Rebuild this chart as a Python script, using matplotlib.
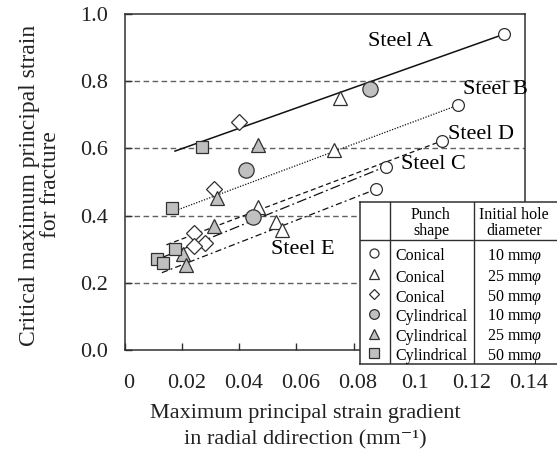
import matplotlib
matplotlib.use("Agg")
import matplotlib.pyplot as plt
import matplotlib.transforms as mtransforms

plt.rcParams['font.family'] = ['Liberation Serif', 'DejaVu Serif']
plt.rcParams['mathtext.fontset'] = 'custom'
plt.rcParams['mathtext.rm'] = 'Liberation Serif'
plt.rcParams['mathtext.it'] = 'Liberation Serif:italic'

# ---- data (strain gradient x, critical strain y) ----
conical10_x = [0.1327, 0.1166, 0.1108, 0.0912, 0.0877]
conical10_y = [0.940, 0.729, 0.622, 0.546, 0.478]
conical25_x = [0.0752, 0.0731, 0.0464, 0.0530, 0.0550]
conical25_y = [0.749, 0.595, 0.427, 0.382, 0.357]
conical50_x = [0.0398, 0.0312, 0.0240, 0.0281, 0.0243]
conical50_y = [0.679, 0.478, 0.347, 0.317, 0.310]
cyl10_x = [0.0857, 0.0423, 0.0448]
cyl10_y = [0.776, 0.536, 0.397]
cyl25_x = [0.0464, 0.0322, 0.0311, 0.0202, 0.0214]
cyl25_y = [0.610, 0.451, 0.370, 0.285, 0.253]
cyl50_x = [0.0269, 0.0164, 0.0175, 0.0113, 0.0134]
cyl50_y = [0.603, 0.422, 0.300, 0.270, 0.260]

# fitted lines per steel: (x0, x1), (y0, y1)
steel_names = ['Steel A', 'Steel B', 'Steel D', 'Steel C', 'Steel E']
line_x = [(0.0175, 0.1327), (0.0168, 0.1160), (0.0145, 0.1108), (0.0132, 0.0912), (0.0129, 0.0877)]
line_y = [(0.592, 0.940), (0.412, 0.727), (0.313, 0.622), (0.276, 0.546), (0.230, 0.478)]
line_styles = ['-', (0, (1, 1.2)), (0, (4, 2.5)), (0, (8, 2.5, 1.5, 2.5)), (0, (5, 2.5, 1.5, 2.5))]
line_widths = [1.1, 0.9, 0.9, 0.9, 0.9]
label_x = [0.0965, 0.1295, 0.1245, 0.1080, 0.0621]
label_y = [0.917, 0.774, 0.640, 0.551, 0.298]

x_ticks = [0, 0.02, 0.04, 0.06, 0.08, 0.10, 0.12, 0.14]
x_ticklabels = ['0', '0.02', '0.04', '0.06', '0.08', '0.1', '0.12', '0.14']
y_ticks = [0.0, 0.2, 0.4, 0.6, 0.8, 1.0]
y_ticklabels = ['0.0', '0.2', '0.4', '0.6', '0.8', '1.0']
grid_y = [0.2, 0.4, 0.6, 0.8]

legend_shapes = ['Conical', 'Conical', 'Conical', 'Cylindrical', 'Cylindrical', 'Cylindrical']
legend_diams = ['10 mm$\\varphi$', '25 mm$\\varphi$', '50 mm$\\varphi$',
                '10 mm$\\varphi$', '25 mm$\\varphi$', '50 mm$\\varphi$']

GRAY = '#c0c0c0'
EDGE = '#303030'
W, H = 557, 461

fig = plt.figure(figsize=(W / 100, H / 100), dpi=100)
ax = fig.add_axes([125 / W, 1 - 350 / H, 400 / W, 336 / H])
ax.set_xlim(0, 0.14)
ax.set_ylim(0, 1.0)

for gy in grid_y:
    ax.axhline(gy, color='#606060', lw=1.0, ls=(0, (4, 2.5)), zorder=1)

for xs, ys, ls, lw in zip(line_x, line_y, line_styles, line_widths):
    ax.plot(xs, ys, color='#111111', ls=ls, lw=lw, zorder=2)

mk = dict(linestyle='none', markeredgecolor=EDGE, markeredgewidth=0.9, zorder=3)
ax.plot(conical10_x, conical10_y, marker='o', ms=8.5, markerfacecolor='white', **mk)
ax.plot(conical25_x, conical25_y, marker='^', ms=9.5, markerfacecolor='white', **mk)
ax.plot(conical50_x, conical50_y, marker='D', ms=8, markerfacecolor='white', **mk)
ax.plot(cyl10_x, cyl10_y, marker='o', ms=11, markerfacecolor=GRAY, **mk)
ax.plot(cyl25_x, cyl25_y, marker='^', ms=9.5, markerfacecolor=GRAY, **mk)
ax.plot(cyl50_x, cyl50_y, marker='s', ms=9, markerfacecolor=GRAY, **mk)

for name, lx, ly in zip(steel_names, label_x, label_y):
    ax.text(lx, ly, name, fontsize=16, ha='center', va='center', zorder=4)

ax.set_xticks(x_ticks)
ax.set_xticklabels(x_ticklabels)
ax.set_yticks(y_ticks)
ax.set_yticklabels(y_ticklabels)
ax.tick_params(axis='both', direction='in', length=5, width=1.0, color='#303030',
               labelsize=16, colors='#222222')
ax.tick_params(axis='y', pad=12)
ax.tick_params(axis='x', pad=17)
offset = mtransforms.ScaledTranslation(4 / 100, 0, fig.dpi_scale_trans)
for lab in ax.get_xticklabels():
    lab.set_transform(lab.get_transform() + offset)
for sp in ax.spines.values():
    sp.set_color('#303030')
    sp.set_linewidth(1.1)

# axis titles
fig.text(305 / W, 1 - 413 / H, 'Maximum principal strain gradient', fontsize=16,
         ha='center', va='center', color='#222222')
fig.text(305 / W, 1 - 440 / H, 'in radial ddirection (mm\u207b\u00b9)', fontsize=16,
         ha='center', va='center', color='#222222')
fig.text(30 / W, 1 - 185 / H, 'Critical maximum principal strain', fontsize=17,
         rotation=90, ha='center', va='center', color='#222222')
fig.text(50 / W, 1 - 185 / H, 'for fracture', fontsize=17,
         rotation=90, ha='center', va='center', color='#222222')

# legend table (pixel coordinates of the table region)
tl, tr, tt, tb = 360, 557, 202.5, 364
lax = fig.add_axes([tl / W, 1 - tb / H, (tr - tl) / W, (tb - tt) / H])
lax.set_xlim(tl, tr)
lax.set_ylim(tb, tt)
lax.set_facecolor('white')
lax.set_xticks([])
lax.set_yticks([])
for k, sp in lax.spines.items():
    sp.set_color('#303030')
    sp.set_linewidth(1.1)
lax.spines['right'].set_visible(False)
lax.axhline(240, color='#303030', lw=1.0)
lax.axvline(390, color='#303030', lw=1.0)
lax.axvline(474.5, color='#303030', lw=1.0)
lax.text(431, 215, 'Punch', fontsize=11.5, ha='center', va='center')
lax.text(431, 231, 'shape', fontsize=11.5, ha='center', va='center')
lax.text(514, 215, 'Initial hole', fontsize=11.5, ha='center', va='center')
lax.text(514, 231, 'diameter', fontsize=11.5, ha='center', va='center')

leg_markers = ['o', '^', 'D', 'o', '^', 's']
leg_faces = ['white', 'white', 'white', GRAY, GRAY, GRAY]
leg_sizes = [6.5, 6.5, 5.5, 7, 6.5, 6.5]
row_y = [253.5, 274.5, 294.5, 314, 334, 353]
for i, (shape, diam) in enumerate(zip(legend_shapes, legend_diams)):
    lax.plot([374], [row_y[i]], marker=leg_markers[i], ms=leg_sizes[i],
             markerfacecolor=leg_faces[i], markeredgecolor=EDGE, markeredgewidth=0.9,
             linestyle='none')
    lax.text(395, row_y[i] + 3, shape, fontsize=11.5, ha='left', va='center')
    lax.text(542, row_y[i] + 3, diam, fontsize=11.5, ha='right', va='center')

fig.savefig('out.png', dpi=100)
